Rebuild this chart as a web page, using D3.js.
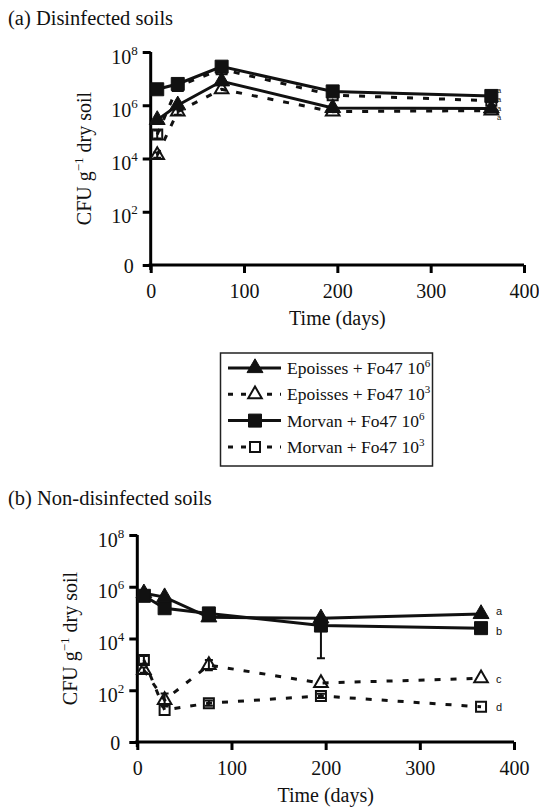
<!DOCTYPE html>
<html>
<head>
<meta charset="utf-8">
<script src="https://cdn.jsdelivr.net/npm/d3@7"></script>
<style>
  body { margin: 0; background: #fff; }
  svg text { fill: #111; }
</style>
</head>
<body>
<div id="graph"></div>
<script>
// sampling days
const days = [7, 29, 76, 195, 365];

// (a) disinfected soils, log10 CFU g-1 dry soil
const epo6A = [5.45, 6.0, 6.9, 5.9, 5.88];
const epo3A = [4.13, 5.76, 6.6, 5.76, 5.8];
const mor6A = [6.6, 6.8, 7.45, 6.52, 6.35];
const mor3A = [4.9, 6.72, 7.35, 6.38, 6.17];

// (b) non-disinfected soils, log10 CFU g-1 dry soil
const epo6B = [5.75, 5.6, 4.82, 4.78, 4.95];
const mor6B = [5.65, 5.17, 4.97, 4.5, 4.4];
const epo3B = [2.78, 1.62, 2.97, 2.28, 2.46];
const mor3B = [3.17, 1.24, 1.5, 1.78, 1.36];

// error bars (lower, upper offsets in log10 units), only where visible
const errMor6B = [[0, 0], [0, 0], [0, 0], [1.26, 0.25], [0, 0]];
const errMor3B = [[0.15, 0.15], [0, 0], [0.1, 0.1], [0.08, 0.08], [0, 0]];
const errEpo3B = [[0.1, 0.1], [0.25, 0.25], [0.2, 0.2], [0, 0], [0, 0]];
const errMor3A = [[0.15, 0.15], [0, 0], [0, 0], [0, 0], [0, 0]];
const errEpo3A = [[0.1, 0.1], [0.12, 0.12], [0, 0], [0, 0], [0, 0]];

const yTicks = [0, 2, 4, 6, 8];
const xTicks = [0, 100, 200, 300, 400];
const legendNames = ["Epoisses + Fo47 10", "Epoisses + Fo47 10", "Morvan + Fo47 10", "Morvan + Fo47 10"];
const legendSups = ["6", "3", "6", "3"];
const lettersA = ["a", "a", "a", "a"];
const lettersB = ["a", "b", "c", "d"];

const w = 539;
const h = 810;
const serif = "'Liberation Serif', 'Times New Roman', Times, 'DejaVu Serif', serif";
const noErr = days.map(() => [0, 0]);

const svg = d3.select("#graph")
  .append("svg")
  .attr("width", w)
  .attr("height", h)
  .style("font-family", serif);

//draws one panel
function panel (cfg) {
  const x = d3.scaleLinear().domain([0, 400]).range([cfg.x0, cfg.x1]);
  const y = d3.scaleLinear().domain([0, 8]).range([cfg.y0, cfg.y1]);
  const g = svg.append("g");

  g.append("text")
    .attr("x", 8)
    .attr("y", cfg.titleY)
    .style("font-family", serif)
    .style("font-size", "20.5px")
    .text(cfg.title);

  // y axis
  const yAxis = g.append("g")
    .attr("transform", `translate(${cfg.x0},0)`)
    .call(d3.axisLeft(y).tickValues(yTicks).tickSize(8).tickFormat(""));
  yAxis.attr("font-family", null);
  yAxis.select(".domain").attr("stroke-width", 3).attr("d", `M0,${cfg.y1}V${cfg.y0 + 5}`);
  yAxis.selectAll(".tick line").attr("stroke-width", 3);
  yAxis.selectAll(".tick").append("text")
    .attr("x", (d) => d === 0 ? -17 : -13)
    .attr("y", (d) => d === 0 ? 7 : 11)
    .attr("text-anchor", "end")
    .style("font-family", serif)
    .style("font-size", "20px")
    .each(function (d) {
      const t = d3.select(this);
      if (d === 0) { t.text("0"); return; }
      t.append("tspan").text("10");
      t.append("tspan").attr("dy", -9).style("font-size", "13px").text(d);
    });

  // x axis
  const xAxis = g.append("g")
    .attr("transform", `translate(0,${cfg.y0})`)
    .call(d3.axisBottom(x).tickValues(xTicks).tickSize(8).tickFormat(""));
  xAxis.attr("font-family", null);
  xAxis.select(".domain").attr("stroke-width", 3).attr("d", `M${cfg.x0 - 2},0H${cfg.x1}`);
  xAxis.selectAll(".tick line").attr("stroke-width", 3);
  xAxis.selectAll(".tick").append("text")
    .attr("y", 33)
    .attr("text-anchor", "middle")
    .style("font-family", serif)
    .style("font-size", "20px")
    .text((d) => d);

  g.append("text")
    .attr("x", (cfg.x0 + cfg.x1) / 2)
    .attr("y", cfg.y0 + 60)
    .attr("text-anchor", "middle")
    .style("font-family", serif)
    .style("font-size", "20px")
    .text("Time (days)");

  // y label
  const yl = g.append("text")
    .attr("transform", `translate(${cfg.x0 - 60},${(cfg.y0 + cfg.y1) / 2}) rotate(-90)`)
    .attr("text-anchor", "middle")
    .style("font-family", serif)
    .style("font-size", "20px");
  yl.append("tspan").text("CFU g");
  yl.append("tspan").attr("dy", -8).style("font-size", "13px").text("\u22121");
  yl.append("tspan").attr("dy", 8).text(" dry soil");

  const line = d3.line().x((d) => x(d.t)).y((d) => y(d.v));

  cfg.series.forEach((s) => {
    const pts = days.map((t, i) => ({t, v: s.values[i], lo: s.err[i][0], hi: s.err[i][1]}));
    g.append("path")
      .datum(pts)
      .attr("d", line)
      .attr("fill", "none")
      .attr("stroke", "#111")
      .attr("stroke-width", 3)
      .attr("stroke-dasharray", s.dashed ? "6,10" : null);
    s.pts = pts;
  });

  cfg.series.forEach((s) => {
    const bars = s.pts.filter((d) => d.lo > 0 || d.hi > 0);
    g.selectAll(null).data(bars).enter().append("path")
      .attr("d", (d) => `M${x(d.t)},${y(d.v - d.lo)}V${y(d.v + d.hi)}` +
        `M${x(d.t) - 4},${y(d.v - d.lo)}h8M${x(d.t) - 4},${y(d.v + d.hi)}h8`)
      .attr("stroke", "#111")
      .attr("stroke-width", 2)
      .attr("fill", "none");
    g.selectAll(null).data(s.pts).enter().append("path")
      .attr("transform", (d) => `translate(${x(d.t)},${y(d.v)})`)
      .attr("d", d3.symbol().type(s.shape).size(s.open ? (s.shape === d3.symbolSquare ? 100 : 80) : (s.shape === d3.symbolSquare ? 169 : 110)))
      .attr("fill", s.open ? "#fff" : "#111")
      .attr("fill-opacity", s.open ? 0 : 1)
      .attr("stroke", "#111")
      .attr("stroke-width", s.open ? 2 : 1);
  });

  // significance letters
  g.selectAll(null).data(cfg.letters).enter().append("text")
    .attr("x", cfg.letterX)
    .attr("y", (d, i) => cfg.letterY[i] + 3)
    .style("font-family", "'Liberation Sans', Arial, sans-serif")
    .style("font-size", cfg.letterSize)
    .text((d) => d);
}

panel({
  title: "(a) Disinfected soils", titleY: 25,
  x0: 150.7, x1: 524, y0: 265, y1: 52,
  letters: lettersA, letterX: 497, letterY: [90, 99, 108, 117], letterSize: "7.5px",
  series: [
    {values: epo3A, err: errEpo3A, shape: d3.symbolTriangle, open: true, dashed: true},
    {values: mor3A, err: errMor3A, shape: d3.symbolSquare, open: true, dashed: true},
    {values: epo6A, err: noErr, shape: d3.symbolTriangle, open: false, dashed: false},
    {values: mor6A, err: noErr, shape: d3.symbolSquare, open: false, dashed: false}
  ]
});

panel({
  title: "(b) Non-disinfected soils", titleY: 505,
  x0: 137.3, x1: 514, y0: 742, y1: 535,
  letters: lettersB, letterX: 496, letterY: [612, 632, 680, 708], letterSize: "11px",
  series: [
    {values: epo3B, err: errEpo3B, shape: d3.symbolTriangle, open: true, dashed: true},
    {values: mor3B, err: errMor3B, shape: d3.symbolSquare, open: true, dashed: true},
    {values: epo6B, err: noErr, shape: d3.symbolTriangle, open: false, dashed: false},
    {values: mor6B, err: errMor6B, shape: d3.symbolSquare, open: false, dashed: false}
  ]
});

// legend
const lg = svg.append("g");
lg.append("rect")
  .attr("x", 220.5).attr("y", 353)
  .attr("width", 212).attr("height", 113)
  .attr("fill", "#fff")
  .attr("stroke", "#222")
  .attr("stroke-width", 1.5);

const legendShapes = [d3.symbolTriangle, d3.symbolTriangle, d3.symbolSquare, d3.symbolSquare];
const legendOpen = [false, true, false, true];
const rows = lg.selectAll(".row")
  .data(legendNames)
  .enter()
  .append("g")
  .attr("transform", (d, i) => `translate(0,${368 + i * 26.3})`);

rows.append("line")
  .attr("x1", 228).attr("x2", 281)
  .attr("stroke", "#111")
  .attr("stroke-width", 3)
  .attr("stroke-dasharray", (d, i) => legendOpen[i] ? "5,8" : null);

rows.append("path")
  .attr("transform", "translate(255,0)")
  .attr("d", (d, i) => d3.symbol().type(legendShapes[i]).size(legendOpen[i] ? (i === 3 ? 100 : 80) : (i === 2 ? 169 : 110))())
  .attr("fill", (d, i) => legendOpen[i] ? "#fff" : "#111")
  .attr("stroke", "#111")
  .attr("stroke-width", (d, i) => legendOpen[i] ? 2 : 1);

const lt = rows.append("text")
  .attr("x", 287)
  .attr("y", 6)
  .style("font-family", serif)
  .style("font-size", "17.5px");
lt.append("tspan").text((d) => d);
lt.append("tspan").attr("dy", -7).style("font-size", "11px").text((d, i) => legendSups[i]);
</script>
</body>
</html>
